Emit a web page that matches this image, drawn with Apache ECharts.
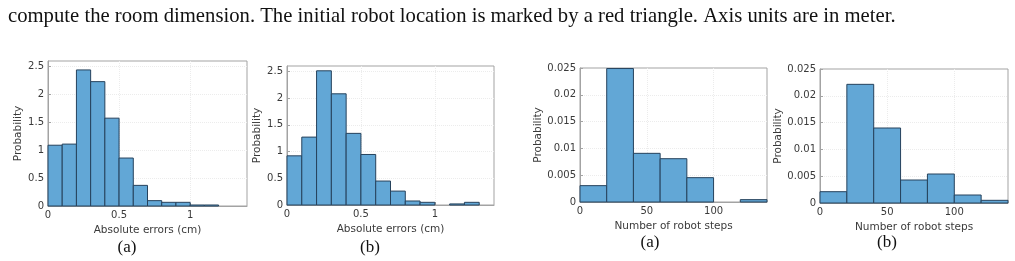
<!DOCTYPE html>
<html>
<head>
<meta charset="utf-8">
<script src="https://cdn.jsdelivr.net/npm/echarts@6/dist/echarts.min.js"></script>
<style>
  html, body { margin: 0; padding: 0; background: #fff; }
  #chart { width: 1015px; height: 261px; }
</style>
</head>
<body>
<div id="chart"></div>
<script>
// bin edges (left edges) and probabilities
const errBinWidth = 0.1;
const errBinsA = [0, 0.1, 0.2, 0.3, 0.4, 0.5, 0.6, 0.7, 0.8, 0.9, 1.0, 1.1];
const errProbA = [1.09, 1.11, 2.44, 2.23, 1.575, 0.86, 0.37, 0.096, 0.066, 0.066, 0.018, 0.018];
const errBinsB = [0, 0.1, 0.2, 0.3, 0.4, 0.5, 0.6, 0.7, 0.8, 0.9, 1.0, 1.1, 1.2];
const errProbB = [0.92, 1.27, 2.51, 2.08, 1.34, 0.945, 0.448, 0.26, 0.075, 0.05, 0, 0.02, 0.05];

const stepBinWidth = 20;
const stepBinsA = [0, 20, 40, 60, 80, 100, 120];
const stepProbA = [0.00305, 0.0249, 0.00908, 0.00808, 0.00454, 0, 0.00044];
const stepBinsB = [0, 20, 40, 60, 80, 100, 120];
const stepProbB = [0.00211, 0.02214, 0.01399, 0.00429, 0.00541, 0.00149, 0.0005];

const errXTicks = { min: 0, max: 1.4, interval: 0.5 };
const errYTicks = { min: 0, max: 2.6, interval: 0.5 };
const stepXTicks = { min: 0, max: 140, interval: 50 };
const stepYTicks = { min: 0, max: 0.025, interval: 0.005 };

const captionText = 'compute the room dimension. The initial robot location is marked by a red triangle. Axis units are in meter.';
const subLabels = ['(a)', '(b)', '(a)', '(b)'];

const FONT = 'DejaVu Sans';
const TEXT_COLOR = '#3a3a3a';
const BOX_COLOR = '#a3a3a3';
const BAR_FILL = '#62a7d6';
const BAR_EDGE = '#26425c';

const grids = [
  { left: 48, top: 61, width: 199, height: 145 },
  { left: 287, top: 66, width: 207, height: 139 },
  { left: 580, top: 68, width: 187, height: 134 },
  { left: 820, top: 69, width: 188, height: 134 },
];

const histData = (bins, probs, w) => bins.map((b, i) => [b, b + w, probs[i]]);

const renderHist = (params, api) => {
  const v = api.value(2);
  if (!v) return null;
  const p0 = api.coord([api.value(0), v]);
  const p1 = api.coord([api.value(1), 0]);
  return {
    type: 'rect',
    shape: { x: p0[0], y: p0[1], width: p1[0] - p0[0], height: p1[1] - p0[1] },
    style: { fill: BAR_FILL, stroke: BAR_EDGE, lineWidth: 1 },
  };
};

const axisCommon = {
  nameLocation: 'middle',
  nameTextStyle: { fontFamily: FONT, fontSize: 10.5, color: TEXT_COLOR },
  axisLine: { show: true, lineStyle: { color: BOX_COLOR } },
  axisTick: { show: true, inside: true, length: 3, lineStyle: { color: BOX_COLOR } },
  splitLine: { show: true, showMinLine: false, showMaxLine: false, lineStyle: { color: '#ececec', type: 'dotted' } },
};

const makeX = (idx, ticks, name) => ({
  type: 'value',
  gridIndex: idx,
  ...ticks,
  ...axisCommon,
  name,
  nameGap: 17,
  axisLabel: { fontFamily: FONT, fontSize: 10, color: TEXT_COLOR, margin: 4, showMaxLabel: false },
});

const makeY = (idx, ticks, gap, showMax) => ({
  type: 'value',
  gridIndex: idx,
  ...ticks,
  ...axisCommon,
  name: 'Probability',
  nameGap: gap,
  axisLabel: { fontFamily: FONT, fontSize: 10, color: TEXT_COLOR, margin: 4, showMaxLabel: showMax },
});

const chart = echarts.init(document.getElementById('chart'), null, { renderer: 'canvas' });

const labelPos = [[127, 248], [370, 248], [650, 243], [887, 243]];

chart.setOption({
  animation: false,
  backgroundColor: '#fff',
  grid: grids.map((g) => ({ ...g, show: true, borderColor: BOX_COLOR, borderWidth: 1, backgroundColor: '#fff' })),
  xAxis: [
    makeX(0, errXTicks, 'Absolute errors (cm)'),
    makeX(1, errXTicks, 'Absolute errors (cm)'),
    makeX(2, stepXTicks, 'Number of robot steps'),
    makeX(3, stepXTicks, 'Number of robot steps'),
  ],
  yAxis: [
    makeY(0, errYTicks, 21, false),
    makeY(1, errYTicks, 22, false),
    makeY(2, stepYTicks, 33, true),
    makeY(3, stepYTicks, 33, true),
  ],
  series: [
    { type: 'custom', xAxisIndex: 0, yAxisIndex: 0, renderItem: renderHist, encode: { x: [0, 1], y: 2 }, data: histData(errBinsA, errProbA, errBinWidth) },
    { type: 'custom', xAxisIndex: 1, yAxisIndex: 1, renderItem: renderHist, encode: { x: [0, 1], y: 2 }, data: histData(errBinsB, errProbB, errBinWidth) },
    { type: 'custom', xAxisIndex: 2, yAxisIndex: 2, renderItem: renderHist, encode: { x: [0, 1], y: 2 }, data: histData(stepBinsA, stepProbA, stepBinWidth) },
    { type: 'custom', xAxisIndex: 3, yAxisIndex: 3, renderItem: renderHist, encode: { x: [0, 1], y: 2 }, data: histData(stepBinsB, stepProbB, stepBinWidth) },
  ],
  graphic: [
    {
      type: 'text',
      left: 8,
      top: 6,
      style: { text: captionText, font: '20.7px "Liberation Serif"', fill: '#111' },
    },
    ...subLabels.map((t, i) => ({
      type: 'text',
      x: labelPos[i][0],
      y: labelPos[i][1],
      style: { text: t, font: '17px "Liberation Serif"', fill: '#111', align: 'center', verticalAlign: 'middle' },
    })),
  ],
});
</script>
</body>
</html>
